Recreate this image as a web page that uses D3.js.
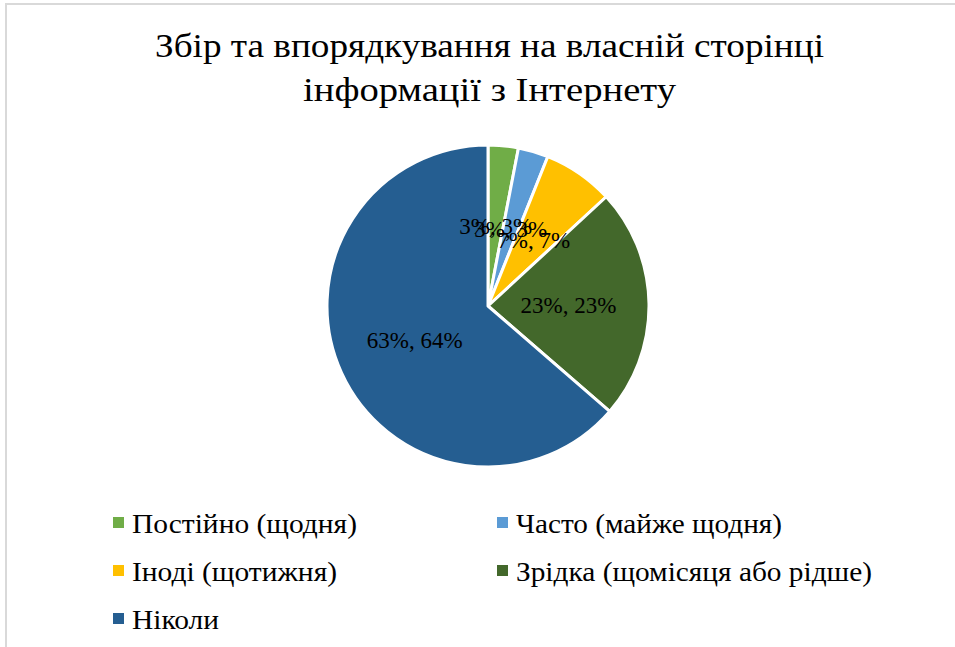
<!DOCTYPE html>
<html><head><meta charset="utf-8">
<script src="https://cdn.jsdelivr.net/npm/d3@7"></script>
</head><body style="margin:0">
<svg id="c" width="955" height="647"></svg>
<script>
const categories = ["Постійно (щодня)", "Часто (майже щодня)", "Іноді (щотижня)", "Зрідка (щомісяця або рідше)", "Ніколи"];
const values = [3, 3, 7, 23, 63];
const colors = ["#70ad47", "#5b9bd5", "#ffc000", "#43682b", "#255e91"];
const titleLines = ["Збір та впорядкування на власній сторінці", "інформації з Інтернету"];

const FONT = '"Liberation Serif"';
const svg = d3.select("#c").style("font-family", FONT);

function fit(sel, w) {
  sel.each(function (d, i) {
    const tw = typeof w === "function" ? w(d, i) : w;
    if (tw) d3.select(this).attr("textLength", tw).attr("lengthAdjust", "spacingAndGlyphs");
  });
}

svg.append("rect").attr("x", 6).attr("y", 4).attr("width", 960).attr("height", 660)
  .attr("fill", "#fff").attr("stroke", "#d9d9d9").attr("stroke-width", 2);

const title = svg.append("g").selectAll("text").data(titleLines).join("text")
  .attr("x", 489.5).attr("y", (d, i) => 57 + i * 44)
  .attr("text-anchor", "middle").style("font-family", FONT).attr("font-size", 34)
  .attr("fill", "#000").text(d => d);
fit(title, (d, i) => [669, 373][i]);

const cx = 488, cy = 306, R = 161;
const total = d3.sum(values);
const pie = d3.pie().sort(null).value(d => d)(values);
const arc = d3.arc().innerRadius(0).outerRadius(R);
const labelArc = d3.arc().innerRadius(R * 0.5).outerRadius(R * 0.5);
const g = svg.append("g").attr("transform", `translate(${cx},${cy})`);
g.selectAll("path").data(pie).join("path")
  .attr("d", arc).attr("fill", (d, i) => colors[i])
  .attr("stroke", "#fff").attr("stroke-width", 3).attr("stroke-linejoin", "round");
g.selectAll("text").data(pie).join("text")
  .attr("transform", d => `translate(${labelArc.centroid(d)})`)
  .attr("text-anchor", "middle").attr("dy", "0.35em")
  .style("font-family", FONT).attr("font-size", 23).attr("fill", "#000")
  .text(d => `${d.value}%, ${Math.round(d.value / total * 100)}%`);

const legend = svg.append("g");
const li = legend.selectAll("g").data(categories).join("g")
  .attr("transform", (d, i) => `translate(${i % 2 === 0 ? 113 : 497},${533 + Math.floor(i / 2) * 48})`);
li.append("rect").attr("x", 0).attr("y", -16).attr("width", 11).attr("height", 11)
  .attr("fill", (d, i) => colors[i]);
const lt = li.append("text").attr("x", 19).attr("y", 0)
  .style("font-family", FONT).attr("font-size", 27).attr("fill", "#000").text(d => d);
fit(lt, (d, i) => [225, 266, 205, 356, 87][i]);
</script>
</body></html>
